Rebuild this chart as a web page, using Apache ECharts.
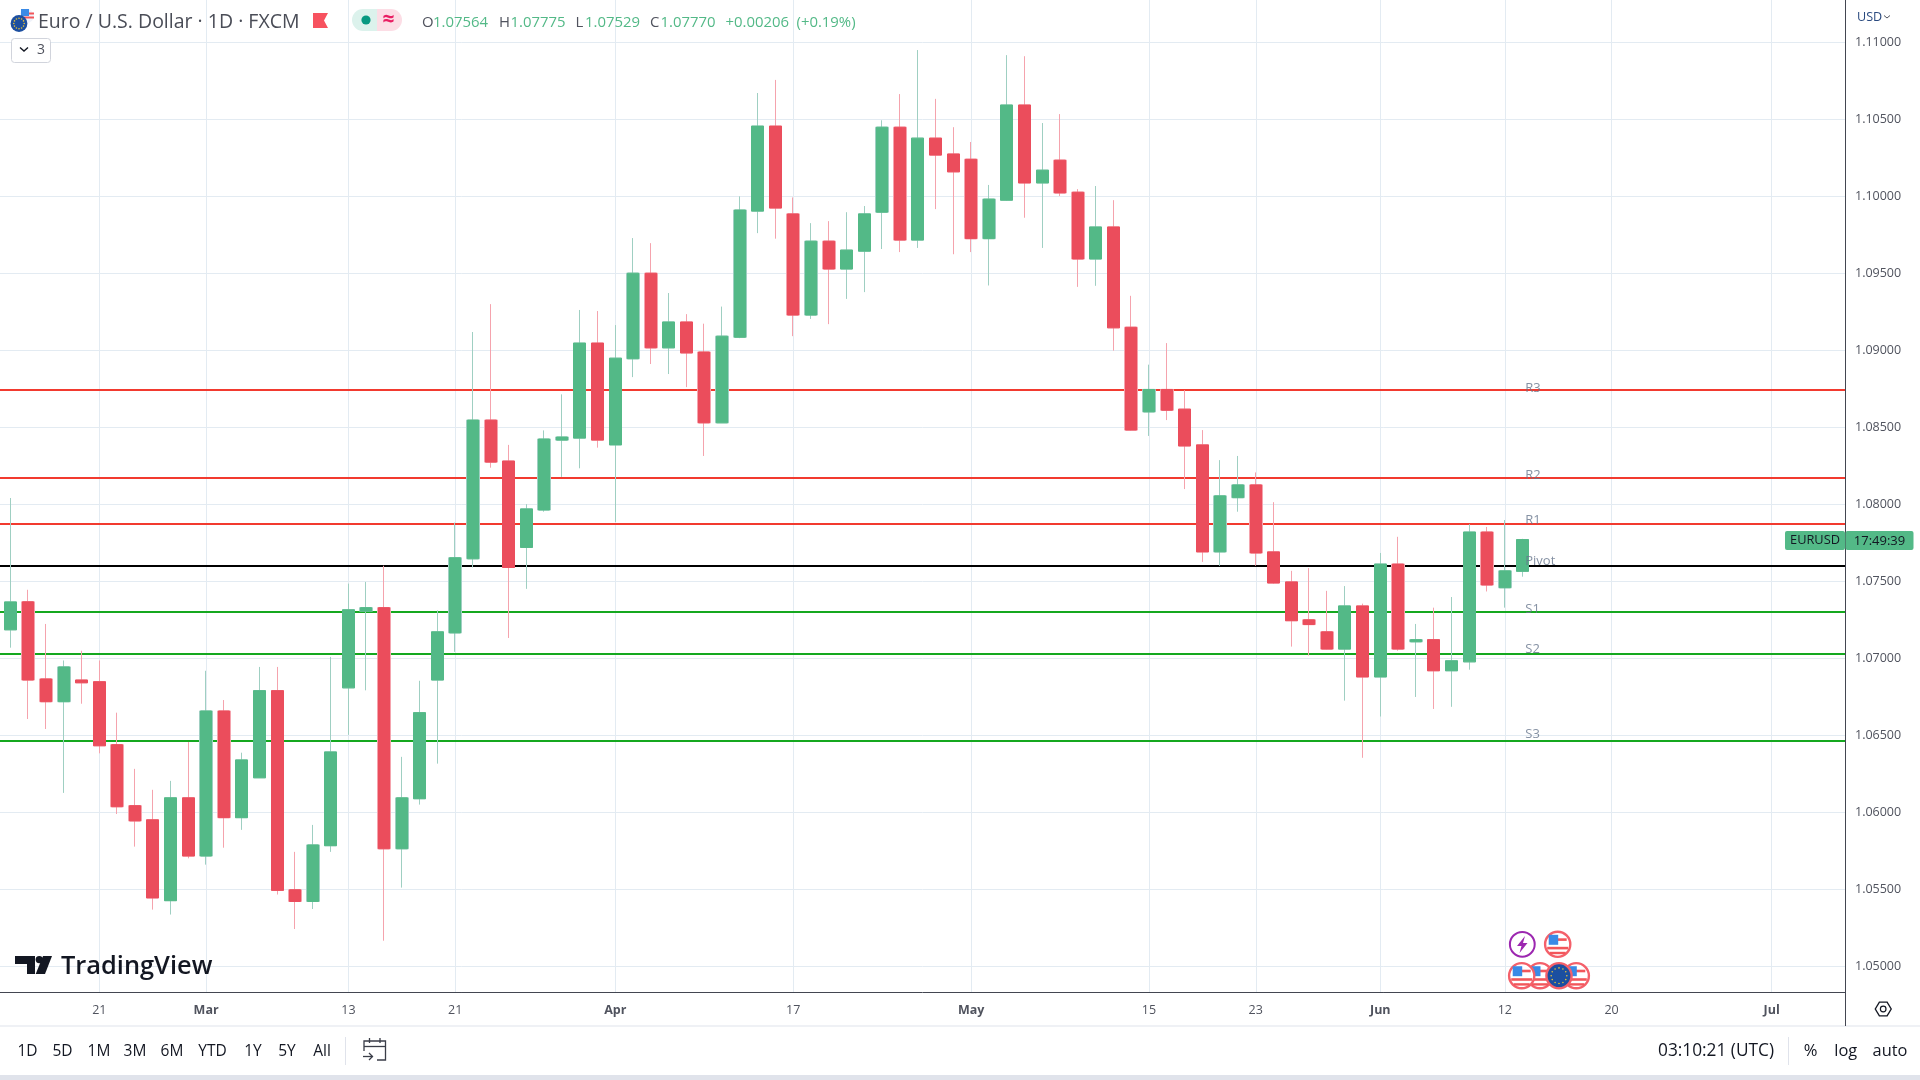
<!DOCTYPE html>
<html><head><meta charset="utf-8"><title>EURUSD</title>
<script src="https://cdn.jsdelivr.net/npm/echarts@6/dist/echarts.min.js"></script>
<style>html,body{margin:0;padding:0;background:#fff}#c{width:1920px;height:1080px}</style></head>
<body><div id="c"></div>
<script>
var opens=[1.07184,1.07366,1.06865,1.06717,1.06858,1.06847,1.06438,1.06042,1.05950,1.05425,1.06093,1.05715,1.06657,1.05964,1.06223,1.06789,1.05496,1.05420,1.05782,1.06807,1.07305,1.07328,1.05762,1.06087,1.06858,1.07164,1.07645,1.08546,1.08280,1.07719,1.07962,1.08416,1.08429,1.09046,1.08385,1.08944,1.09500,1.09015,1.09183,1.08988,1.08528,1.09084,1.09903,1.10455,1.09885,1.09228,1.09708,1.09527,1.09643,1.09896,1.10448,1.09715,1.10377,1.10274,1.10240,1.09724,1.09974,1.10592,1.10086,1.10234,1.10026,1.09592,1.09800,1.09149,1.08599,1.08745,1.08617,1.08385,1.07690,1.08042,1.08125,1.07690,1.07495,1.07249,1.07171,1.07059,1.07339,1.06878,1.07611,1.07106,1.07120,1.06918,1.06976,1.07819,1.07457,1.07564];
var closes=[1.07365,1.06858,1.06717,1.06943,1.06840,1.06431,1.06035,1.05943,1.05443,1.06093,1.05715,1.06657,1.05964,1.06339,1.06789,1.05492,1.05420,1.05787,1.06391,1.07314,1.07328,1.05762,1.06093,1.06646,1.07171,1.07652,1.08546,1.08273,1.07589,1.07969,1.08423,1.08436,1.09046,1.08416,1.08948,1.09500,1.09015,1.09183,1.08982,1.08528,1.09091,1.09910,1.10455,1.09923,1.09228,1.09708,1.09527,1.09650,1.09885,1.10448,1.09715,1.10377,1.10267,1.10158,1.09724,1.09981,1.10592,1.10086,1.10169,1.10021,1.09592,1.09800,1.09145,1.08481,1.08745,1.08610,1.08378,1.07690,1.08054,1.08125,1.07683,1.07488,1.07243,1.07218,1.07059,1.07339,1.06878,1.07611,1.07059,1.07120,1.06918,1.06983,1.07819,1.07475,1.07567,1.07770];
var lows=[1.07068,1.06605,1.06540,1.06125,1.06704,1.06382,1.05988,1.05776,1.05367,1.05335,1.05700,1.05659,1.05769,1.05885,1.06223,1.05465,1.05241,1.05371,1.05742,1.06502,1.06791,1.05165,1.05510,1.06049,1.06315,1.07041,1.07589,1.08237,1.07131,1.07450,1.07951,1.08177,1.08233,1.08367,1.07884,1.08825,1.08910,1.08845,1.08760,1.08313,1.08528,1.09078,1.09760,1.09724,1.09091,1.09203,1.09169,1.09333,1.09377,1.09657,1.09637,1.09664,1.09916,1.09623,1.09637,1.09420,1.09970,1.09860,1.09664,1.10001,1.09411,1.09418,1.08997,1.08478,1.08443,1.08546,1.08098,1.07625,1.07600,1.07951,1.07600,1.07484,1.07075,1.07017,1.07057,1.06724,1.06353,1.06621,1.07048,1.06748,1.06670,1.06684,1.06925,1.07433,1.07328,1.07529];
var highs=[1.08040,1.07444,1.07222,1.06985,1.07048,1.06985,1.06646,1.06281,1.06145,1.06203,1.06455,1.06918,1.06728,1.06386,1.06943,1.06943,1.05742,1.05917,1.07008,1.07484,1.07495,1.07600,1.06359,1.06853,1.07310,1.07880,1.09118,1.09299,1.08385,1.08000,1.08479,1.08713,1.09261,1.09254,1.09163,1.09728,1.09695,1.09371,1.09234,1.09172,1.09283,1.09999,1.10670,1.10755,1.09992,1.09825,1.09838,1.09896,1.09936,1.10493,1.10663,1.10949,1.10632,1.10448,1.10352,1.10073,1.10916,1.10909,1.10475,1.10533,1.10046,1.10066,1.09974,1.09353,1.08906,1.09046,1.08740,1.08481,1.08286,1.08313,1.08206,1.08013,1.07567,1.07585,1.07437,1.07468,1.07354,1.07683,1.07788,1.07222,1.07328,1.07397,1.07870,1.07852,1.07897,1.07775];
var tickBars=[5,11,19,25,34,44,54,64,70,77,84,90,99];
var tickLabels=['21','Mar','13','21','Apr','17','May','15','23','Jun','12','20','Jul'];
var priceTicks=[1.05,1.055,1.06,1.065,1.07,1.075,1.08,1.085,1.09,1.095,1.10,1.105,1.11];
var pivotNames=['R3','R2','R1','Pivot','S1','S2','S3'];
var pivotValues=[1.08742,1.08170,1.07873,1.07600,1.07301,1.07030,1.06462];
var pivotColors=['#f23a2f','#f23a2f','#f23a2f','#000000','#15a81f','#15a81f','#15a81f'];
var pivotLabelLift=[2,2.5,3.5,4,3,4.5,7];
var pivotLabelBar=85.12;

var UP='#53b987',DN='#eb4d5c',UPW='#9fcfc2',DNW='#f5a3ad',FONT='"Open Sans",sans-serif',TXT='#50535e';
var wick=opens.map(function(o,i){return [i,o,closes[i],lows[i],highs[i]];});
var body=opens.map(function(o,i){var c=closes[i];return [i,o,c,Math.min(o,c),Math.max(o,c)];});
var lineData=pivotValues.map(function(v,i){return {yAxis:v,lineStyle:{color:pivotColors[i],width:2,type:'solid'}};});
var labelData=pivotValues.map(function(v,i){return {value:[pivotLabelBar,v],name:pivotNames[i],label:{offset:[0,-pivotLabelLift[i]]}};});

function T(x,y,s,size,color,align,extra){var st={x:x,y:y,text:s,fontSize:size,fontFamily:FONT,fill:color,textAlign:align||'left',textVerticalAlign:'middle'};
 if(extra)for(var k in extra)st[k]=extra[k];return {type:'text',silent:true,z:20,style:st};}
function C(x,y,r,fill,stroke,lw){return {type:'circle',silent:true,z:20,shape:{cx:x,cy:y,r:r},style:{fill:fill,stroke:stroke||null,lineWidth:lw||0}};}
function R(x,y,w,h,fill,stroke,r){return {type:'rect',silent:true,z:20,shape:{x:x,y:y,width:w,height:h,r:r||0},style:{fill:fill,stroke:stroke||null,lineWidth:stroke?1:0}};}
function P(pts,fill){return {type:'polygon',silent:true,z:20,shape:{points:pts},style:{fill:fill}};}
function L(pts,stroke,lw){return {type:'polyline',silent:true,z:20,shape:{points:pts},style:{stroke:stroke,lineWidth:lw||1,fill:null}};}
function usFlag(x,y){return [C(x,y,12.6,'#fff','#f4606a',2.4),R(x-1,y-6,10,2.6,'#f2565a'),R(x-10.5,y+2.5,21,2.6,'#f2565a'),R(x-8,y+7.5,16,2.4,'#f2565a'),R(x-9,y-9.5,9.5,10,'#3a8ae6')];}
function euFlag(x,y,r,ring){var a=[C(x,y,r,'#1c4fa0',ring||null,ring?2.4:0)];for(var i=0;i<12;i++){var t=i*Math.PI/6;a.push(C(x+Math.cos(t)*r*0.62,y+Math.sin(t)*r*0.62,0.8,'#e6c23a'));}return a;}
var G=[];
G.push(R(0,1026,1920,54,'#fff'));G.push(R(0,1025.5,1920,1,'#e0e3eb'));G.push(R(0,1075,1920,5,'#e0e3eb'));
G.push(R(1845,992,1,34,'#434651'));
G.push(C(26.7,16,7.2,'#f0f3fa'),R(25,12.5,9,2,'#f2565a'),R(22,16.5,12,2,'#f2565a'),R(21,9,8,7,'#3a8ae6'));
G=G.concat(euFlag(19,23.5,8.4));
G.push(T(38,22.8,'Euro / U.S. Dollar · 1D · FXCM',19.5,'#4a4d57'));
G.push(P([[313,13],[328,13],[324,20.5],[328,28],[313,28]],'#f7525f'));
G.push(R(352,9,25,22,'#dcf2ec',null,[11,0,0,11]),R(377,9,25,22,'#fcdde5',null,[0,11,11,0]),C(366,20,4.6,'#089981'),T(388.5,20,'≈',21,'#e91e63','center',{fontWeight:700}));
G.push(R(11.5,38.5,39,24,'#fff','#d1d4dc',3),L([[20,47.5],[24,51],[28,47.5]],'#131722',1.4),T(37,50.5,'3',14,TXT));
var ohlc=[['O',422,TXT],['1.07564',433,UP],['H',499,TXT],['1.07775',510.5,UP],['L',575.5,TXT],['1.07529',585,UP],['C',650,TXT],['1.07770',660.5,UP],['+0.00206',725.5,UP],['(+0.19%)',796.5,UP]];
ohlc.forEach(function(o){G.push(T(o[1],22.5,o[0],14.9,o[2]));});
G.push(T(1857,17,'USD',12.6,'#2a4a7f'),L([[1884,15.5],[1887,18],[1890,15.5]],'#50535e',1));
G.push(R(1785,531,60,19,UP,null,2),R(1845.5,531,68,19,UP,null,2));
G.push(T(1815,540.8,'EURUSD',12.8,'#131722','center'),T(1879.5,540.8,'17:49:39',13,'#131722','center'));
G.push(C(1522.3,944.3,12.4,'#fff','#9c27b0',2),P([[1525,936],[1517,946],[1521.5,946],[1519.5,953],[1527.5,943],[1523,943]],'#9c27b0'));
G=G.concat(usFlag(1557.7,944.3),usFlag(1576.3,975.7),usFlag(1540,975.7),euFlag(1559,975.7,12.6,'#f4606a'),usFlag(1521.7,975.7));
G.push(P([[15,956],[35,956],[35,974],[27,974],[27,964],[15,964]],'#131722'),C(39.3,959.6,3.7,'#131722'),P([[43,956],[52,956],[45,974],[35.7,974]],'#131722'));
G.push(T(61,966.5,'TradingView',25.4,'#131722','left',{fontWeight:600}));
[['1D',27.5],['5D',62.5],['1M',99],['3M',135],['6M',172],['YTD',212.5],['1Y',253],['5Y',287],['All',322]].forEach(function(o){G.push(T(o[1],1052,o[0],15.5,'#131722','center'));});
G.push(R(345,1037,1,28,'#e0e3eb'));
G.push(L([[364,1051],[364,1041],[385.5,1041],[385.5,1060],[377,1060]],'#3a3d48',1.3),L([[364,1046.5],[385.5,1046.5]],'#3a3d48',1.3),L([[369.5,1038],[369.5,1043]],'#3a3d48',1.3),L([[380,1038],[380,1043]],'#3a3d48',1.3),L([[363,1056.5],[372.5,1056.5]],'#3a3d48',1.3),L([[369,1053],[372.5,1056.5],[369,1060]],'#3a3d48',1.3));
G.push(T(1658,1051.5,'03:10:21 (UTC)',17.3,'#131722'),R(1788,1037,1,28,'#e0e3eb'),T(1810.7,1051.5,'%',16.6,'#131722','center'),T(1845.7,1051.5,'log',16.4,'#131722','center'),T(1890,1051.5,'auto',16.4,'#131722','center'));
G.push(P([[1874.5,1009],[1879,1001.5],[1887.5,1001.5],[1892,1009],[1887.5,1016.5],[1879,1016.5]],'#131722'),P([[1876,1009],[1879.8,1002.7],[1886.7,1002.7],[1890.5,1009],[1886.7,1015.3],[1879.8,1015.3]],'#fff'),C(1883.2,1009,2.8,'#fff','#131722',1.2));

var chart=echarts.init(document.getElementById('c'),null,{renderer:'canvas'});
chart.setOption({animation:false,backgroundColor:'#fff',
 grid:{left:0,right:75,top:0,bottom:88,containLabel:false},
 xAxis:{type:'value',min:-0.5846,max:103.12,
  axisLine:{show:true,onZero:false,lineStyle:{color:'#434651',width:1}},
  axisTick:{show:false,customValues:tickBars},
  splitLine:{show:true,lineStyle:{color:'#e3ebf2',width:1}},
  axisLabel:{show:true,customValues:tickBars,margin:12,fontFamily:FONT,fontSize:12.5,color:TXT,hideOverlap:false,
   rich:{m:{fontFamily:FONT,fontSize:12.5,fontWeight:700,color:TXT}},
   formatter:function(v){var i=tickBars.indexOf(Math.round(v));if(i<0)return '';var s=tickLabels[i];return /^[A-Z]/.test(s)?'{m|'+s+'}':s;}}},
 yAxis:{type:'value',position:'right',min:1.04832,max:1.11274,scale:true,
  axisLine:{show:true,onZero:false,lineStyle:{color:'#434651',width:1}},
  axisTick:{show:false,customValues:priceTicks},
  splitLine:{show:true,lineStyle:{color:'#e3ebf2',width:1}},
  axisLabel:{show:true,customValues:priceTicks,margin:10,padding:[2,0,0,0],fontFamily:FONT,fontSize:12.5,color:TXT,
   formatter:function(v){return v.toFixed(5);}}},
 series:[
  {name:'wick',type:'candlestick',z:3,barWidth:13,silent:true,data:wick,
   itemStyle:{color:'rgba(0,0,0,0)',color0:'rgba(0,0,0,0)',borderColor:UPW,borderColor0:DNW,borderWidth:1},
   markLine:{silent:true,z:1,symbol:'none',precision:5,animation:false,label:{show:false},data:lineData}},
  {name:'EURUSD',type:'candlestick',z:4,barWidth:12,silent:true,data:body,
   itemStyle:{color:UP,color0:DN,borderColor:UP,borderColor0:DN,borderWidth:1}},
  {name:'pivotLabels',type:'scatter',z:5,symbolSize:1,silent:true,itemStyle:{color:'rgba(0,0,0,0)'},data:labelData,
   label:{show:true,position:'right',distance:0,formatter:'{b}',fontFamily:FONT,fontSize:13,color:'#66768c'}}
 ],
 graphic:G});
</script></body></html>
